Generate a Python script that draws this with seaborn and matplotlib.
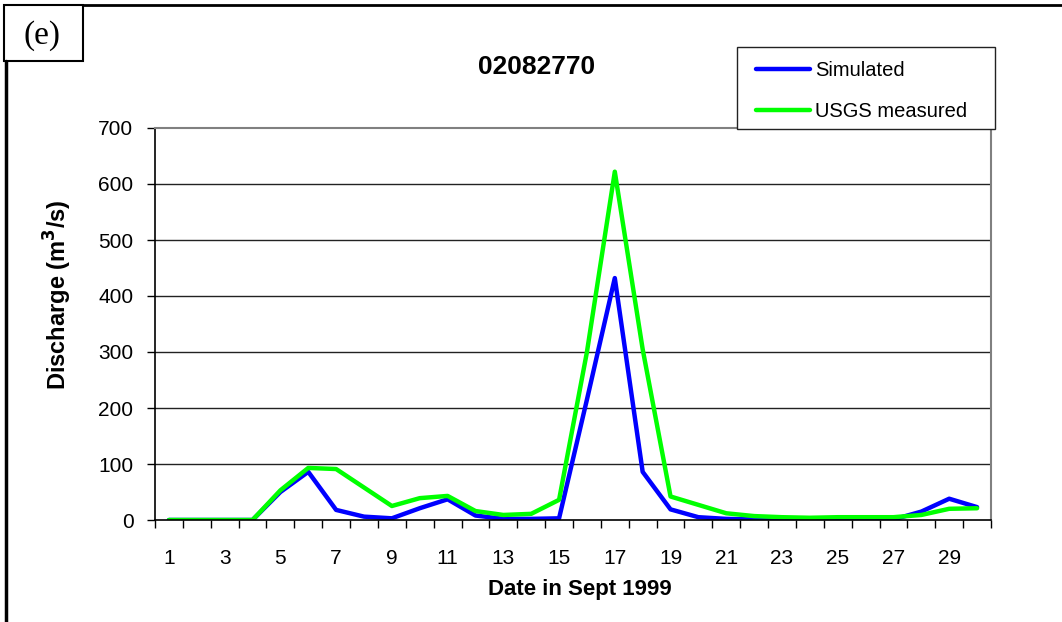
import numpy as np
import pandas as pd
import matplotlib
matplotlib.use('Agg')
import matplotlib.pyplot as plt
import seaborn as sns
from matplotlib.patches import Rectangle
from matplotlib.lines import Line2D

# data (Sept 1999, station 02082770)
days = list(range(1, 31))
simulated = [0, 0, 0, 0, 50, 86, 18, 6, 3, 21, 37, 8, 2, 2, 3,
             215, 432, 86, 19, 5, 2, 1, 1, 1, 1, 1, 1, 15, 38, 23]
usgs_measured = [0, 0, 0, 0, 53, 93, 91, 58, 25, 39, 43, 16, 9, 11, 36,
                 300, 622, 305, 42, 27, 12, 7, 5, 4, 5, 5, 5, 9, 20, 21]
series_names = ['Simulated', 'USGS measured']
series_colors = ['#0000FF', '#00FF00']
y_ticks = [0, 100, 200, 300, 400, 500, 600, 700]
x_labels = list(range(1, 31, 2))

df = pd.DataFrame({
    'day': days * 2,
    'discharge': simulated + usgs_measured,
    'series': [series_names[0]] * len(days) + [series_names[1]] * len(days),
})

sns.set_theme(style='white')
plt.rcParams['font.family'] = ['Liberation Sans', 'DejaVu Sans']
plt.rcParams['text.color'] = 'black'
plt.rcParams['xtick.color'] = 'black'
plt.rcParams['ytick.color'] = 'black'
plt.rcParams['axes.labelcolor'] = 'black'

W, H = 1062, 622
fig = plt.figure(figsize=(W / 100, H / 100), dpi=100)
ax = fig.add_axes([155 / W, 1 - 520 / H, (991 - 155) / W, (520 - 128) / H])

sns.lineplot(data=df, x='day', y='discharge', hue='series',
             palette=dict(zip(series_names, series_colors)),
             linewidth=3.2, ax=ax, legend=False)

ax.set_xlim(0.5, 30.5)
ax.set_ylim(0, 700)
ax.set_yticks(y_ticks)
ax.set_yticklabels([str(v) for v in y_ticks], fontsize=15)
ax.set_xticks(x_labels)
ax.set_xticklabels([str(v) for v in x_labels], fontsize=15)
ax.set_xticks(np.arange(0.5, 31, 1), minor=True)
ax.tick_params(axis='x', which='major', length=0, pad=21)
ax.tick_params(axis='x', which='minor', length=6, width=1, color='black',
               direction='out', bottom=True)
ax.tick_params(axis='y', length=6, width=1, color='black', direction='out',
               left=True, pad=9.5)

# horizontal gridlines
for v in y_ticks[1:-1]:
    ax.axhline(v, color='#222222', lw=1, zorder=0)

for side in ['left', 'bottom']:
    ax.spines[side].set_color('black')
    ax.spines[side].set_linewidth(1.2)
for side in ['top', 'right']:
    ax.spines[side].set_color('#808080')
    ax.spines[side].set_linewidth(1.5)

ax.set_xlabel('')
ax.set_ylabel('')
fig.text(580 / W, 1 - 589 / H, 'Date in Sept 1999', fontsize=16,
         fontweight='bold', ha='center', va='center')
fig.text(58 / W, 1 - 295 / H, 'Discharge (m$^\\mathbf{3}$/s)', fontsize=17,
         fontweight='bold', ha='center', va='center', rotation=90)
fig.text(537 / W, 1 - 67 / H, '02082770', fontsize=19, fontweight='bold',
         ha='center', va='center')

# legend: frame drawn separately so the entries can sit where they do in the original
fig.add_artist(Rectangle((737 / W, 1 - 129 / H), (995 - 737) / W, 82 / H,
                         facecolor='white', edgecolor='#222222', lw=1,
                         transform=fig.transFigure, zorder=5))
handles = [Line2D([0], [0], color=c, lw=3.2) for c in series_colors]
leg = fig.legend(handles, series_names, loc='upper left',
                 bbox_to_anchor=(756 / W, 1 - 61 / H), fontsize=14.5,
                 frameon=False, handlelength=2.7, handletextpad=0.25,
                 labelspacing=1.1, borderpad=0, borderaxespad=0)
leg.set_zorder(6)

# outer frame and panel label
fig.add_artist(Line2D([83 / W, 1], [1 - 5 / H, 1 - 5 / H], color='black', lw=2,
                      transform=fig.transFigure))
fig.add_artist(Line2D([6 / W, 6 / W], [1 - 61 / H, 0], color='black', lw=2.5,
                      transform=fig.transFigure))
fig.add_artist(Rectangle((4 / W, 1 - 61 / H), 79 / W, 56 / H, fill=False,
                         edgecolor='black', lw=1.5, transform=fig.transFigure))
fig.text(42 / W, 1 - 36 / H, '(e)', fontsize=24, family='Liberation Serif',
         ha='center', va='center')

fig.savefig('out.png', dpi=100)
